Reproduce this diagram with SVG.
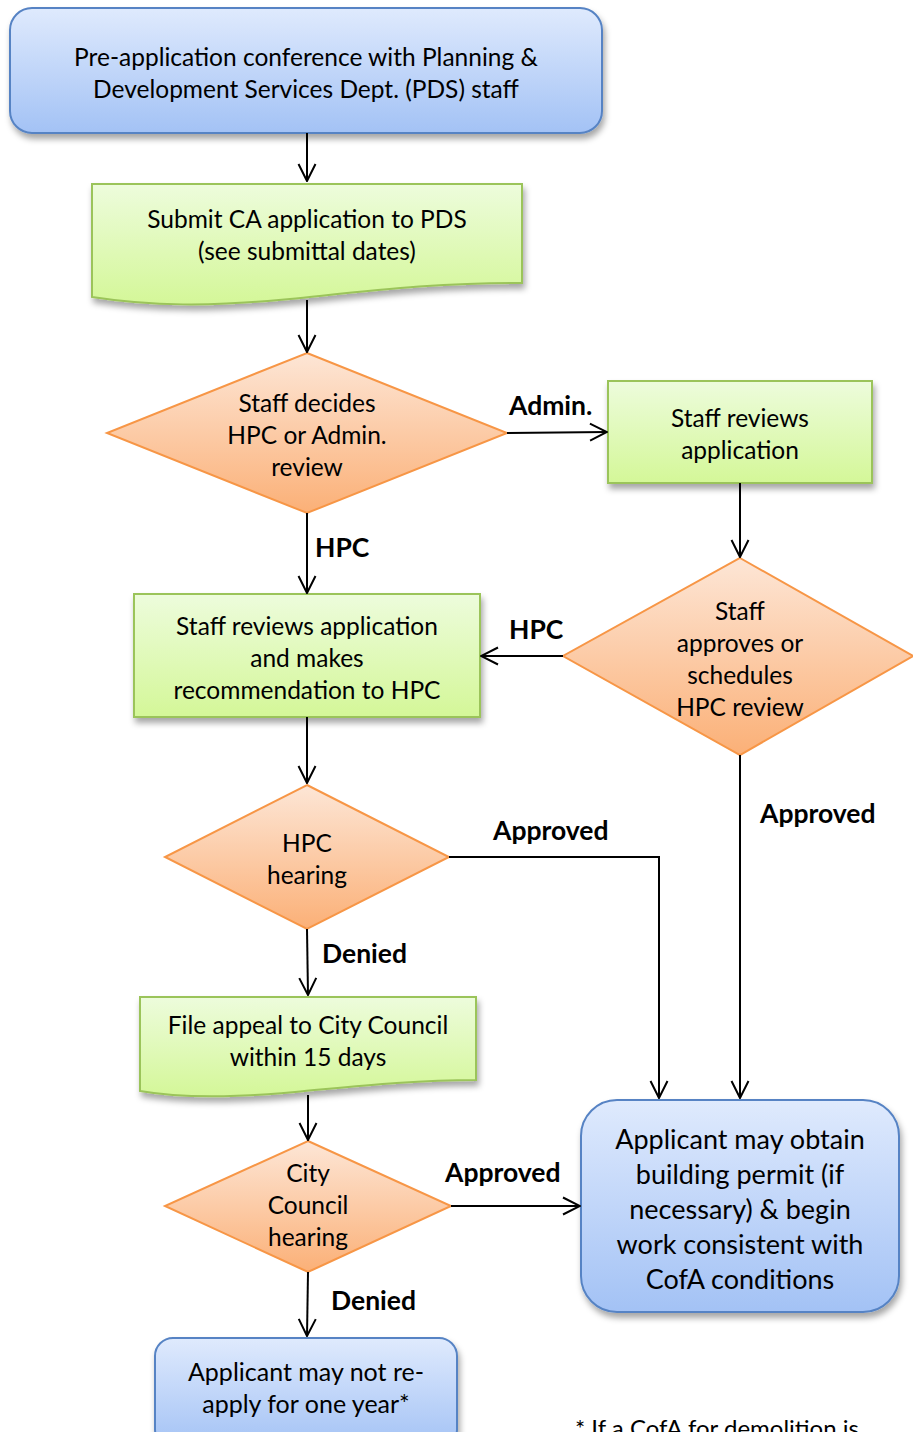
<svg xmlns="http://www.w3.org/2000/svg" width="913" height="1432" viewBox="0 0 913 1432">
<defs>
<linearGradient id="gBlue" x1="0" y1="0" x2="0" y2="1"><stop offset="0" stop-color="#dfeafd"/><stop offset="1" stop-color="#a3c2f5"/></linearGradient>
<linearGradient id="gGreen" x1="0" y1="0" x2="0" y2="1"><stop offset="0" stop-color="#edfcdc"/><stop offset="1" stop-color="#d4f798"/></linearGradient>
<linearGradient id="gOrange" x1="0" y1="0" x2="0" y2="1"><stop offset="0" stop-color="#fde6d6"/><stop offset="1" stop-color="#fbb077"/></linearGradient>
<filter id="sh" x="-10%" y="-10%" width="130%" height="140%"><feDropShadow dx="2" dy="5" stdDeviation="3" flood-color="#000" flood-opacity="0.35"/></filter>
<marker id="arr" viewBox="0 0 20 20" refX="19" refY="10" markerWidth="20" markerHeight="20" markerUnits="userSpaceOnUse" orient="auto"><path d="M2,1.5 L19,10 L2,18.5" fill="none" stroke="#000" stroke-width="2"/></marker>
<style>
.blue{fill:url(#gBlue);stroke:#5683c4;stroke-width:2;filter:url(#sh)}
.green{fill:url(#gGreen);stroke:#9bc45a;stroke-width:2;filter:url(#sh)}
.orange{fill:url(#gOrange);stroke:#f79646;stroke-width:2}
.t{font-family:Lato,"Open Sans","Liberation Sans",sans-serif;font-size:24.5px;fill:#000;text-anchor:middle;dominant-baseline:central}
.tl{font-family:Lato,"Open Sans","Liberation Sans",sans-serif;font-size:27px;fill:#000;text-anchor:middle;dominant-baseline:central}
.lb{font-family:Lato,"Open Sans","Liberation Sans",sans-serif;font-size:26.5px;font-weight:bold;fill:#000;dominant-baseline:central}
.c{fill:none;stroke:#000;stroke-width:2;marker-end:url(#arr)}
</style>
</defs>
<rect width="913" height="1432" fill="#fff"/>

<g id="preapp">
<rect class="blue" x="10" y="8" width="592" height="125" rx="22"/>
<text class="t" x="306" y="56">Pre-application conference with Planning &amp;</text>
<text class="t" x="306" y="88">Development Services Dept. (PDS) staff</text>
</g>

<g id="submit">
<path class="green" d="M92,184 H522 V283 C440,282 360,292 290,299 C210,307 150,306 92,297 Z"/>
<text class="t" x="307" y="218">Submit CA application to PDS</text>
<text class="t" x="307" y="250">(see submittal dates)</text>
</g>

<g id="decide">
<path class="orange" d="M307,353 L507,433 L307,513 L107,433 Z"/>
<text class="t" x="307" y="402">Staff  decides</text>
<text class="t" x="307" y="434">HPC or Admin.</text>
<text class="t" x="307" y="466">review</text>
</g>

<g id="staffreview">
<rect class="green" x="608" y="381" width="264" height="102"/>
<text class="t" x="740" y="417">Staff reviews</text>
<text class="t" x="740" y="449">application</text>
</g>

<g id="approves">
<path class="orange" d="M740,558 L913,656 L740,755 L563,656 Z"/>
<text class="t" x="740" y="610">Staff</text>
<text class="t" x="740" y="642">approves or</text>
<text class="t" x="740" y="674">schedules</text>
<text class="t" x="740" y="706">HPC review</text>
</g>

<g id="recommend">
<rect class="green" x="134" y="594" width="346" height="123"/>
<text class="t" x="307" y="625">Staff reviews application</text>
<text class="t" x="307" y="657">and makes</text>
<text class="t" x="307" y="689">recommendation to HPC</text>
</g>

<g id="hpchearing">
<path class="orange" d="M307,785 L449,857 L307,929 L165,857 Z"/>
<text class="t" x="307" y="842">HPC</text>
<text class="t" x="307" y="874">hearing</text>
</g>

<g id="appeal">
<path class="green" d="M140,997 H476 V1080 C410,1080 350,1087 295,1092 C230,1098 180,1098 140,1091 Z"/>
<text class="t" x="308" y="1024">File appeal to City Council</text>
<text class="t" x="308" y="1056">within 15 days</text>
</g>

<g id="council">
<path class="orange" d="M308,1141 L451,1206 L308,1272 L165,1206 Z"/>
<text class="t" x="308" y="1172">City</text>
<text class="t" x="308" y="1204">Council</text>
<text class="t" x="308" y="1236">hearing</text>
</g>

<g id="permit">
<rect class="blue" x="581" y="1100" width="318" height="212" rx="36"/>
<text class="tl" x="740" y="1138">Applicant may obtain</text>
<text class="tl" x="740" y="1173">building permit (if</text>
<text class="tl" x="740" y="1208">necessary) &amp; begin</text>
<text class="tl" x="740" y="1243">work consistent with</text>
<text class="tl" x="740" y="1278">CofA conditions</text>
</g>

<g id="notreapply">
<rect class="blue" x="155" y="1338" width="302" height="110" rx="18"/>
<text class="t" x="306" y="1371" style="font-size:25px">Applicant may not re-</text>
<text class="t" x="306" y="1403" style="font-size:25px">apply for one year*</text>
</g>

<g id="footnote">
<text x="575" y="1427" style="font-family:Lato,'Open Sans','Liberation Sans',sans-serif;font-size:24px;fill:#000;dominant-baseline:central">* If a CofA for demolition is</text>
</g>

<g id="connectors">
<path class="c" d="M307,133 V181"/>
<path class="c" d="M307,300 V352"/>
<path class="c" d="M507,433 L607,432"/>
<path class="c" d="M740,483 V557"/>
<path class="c" d="M563,656 L481,656"/>
<path class="c" d="M307,513 V593"/>
<path class="c" d="M307,717 V783"/>
<path class="c" d="M449,857 H659 V1098"/>
<path class="c" d="M740,755 V1098"/>
<path class="c" d="M307,929 L308,995"/>
<path class="c" d="M308,1095 V1140"/>
<path class="c" d="M451,1206 H580"/>
<path class="c" d="M308,1272 L307,1336"/>
<text class="lb" x="509" y="405">Admin.</text>
<text class="lb" x="509" y="629">HPC</text>
<text class="lb" x="315" y="547">HPC</text>
<text class="lb" x="493" y="830">Approved</text>
<text class="lb" x="760" y="813">Approved</text>
<text class="lb" x="322" y="953">Denied</text>
<text class="lb" x="445" y="1172">Approved</text>
<text class="lb" x="331" y="1300">Denied</text>
</g>
</svg>
